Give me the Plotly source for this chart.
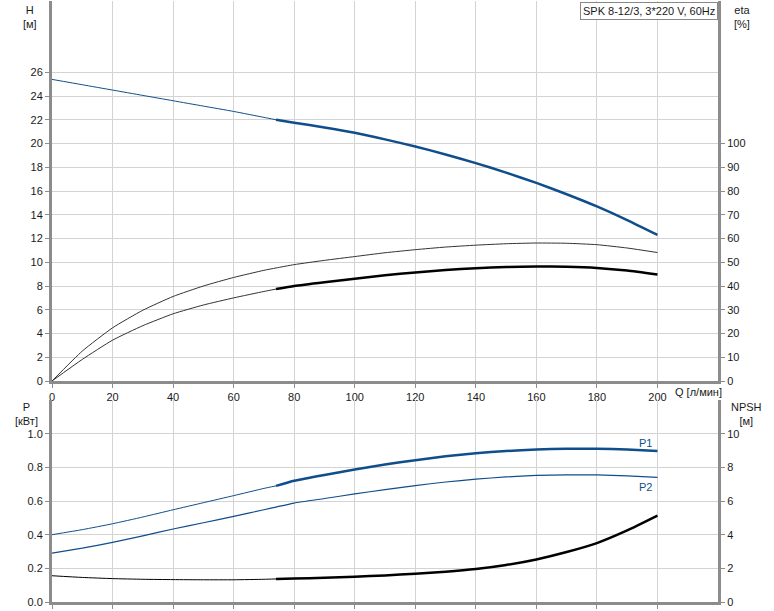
import plotly.graph_objects as go

# ---- data ----
Q = [0, 10, 20, 30, 40, 50, 60, 70, 74, 80, 90, 100, 110, 120, 130, 140, 150, 160, 170, 180, 190, 200]
H = [25.4, 24.95, 24.5, 24.05, 23.6, 23.15, 22.7, 22.2, 22.0, 21.75, 21.35, 20.9, 20.35, 19.75, 19.08, 18.35, 17.55, 16.68, 15.73, 14.7, 13.55, 12.3]
ETA_UP = [0, 12.6, 22.4, 29.8, 35.6, 40.0, 43.6, 46.6, 47.6, 49.0, 50.8, 52.4, 54.0, 55.3, 56.4, 57.2, 57.8, 58.1, 58.0, 57.4, 56.0, 54.1]
ETA_LO = [0, 9.1, 17.2, 23.3, 28.3, 32.0, 35.0, 37.7, 38.7, 40.0, 41.6, 43.1, 44.5, 45.7, 46.7, 47.5, 48.0, 48.2, 48.1, 47.6, 46.5, 44.8]
P1 = [0.40, 0.43, 0.465, 0.505, 0.548, 0.59, 0.632, 0.675, 0.69, 0.72, 0.755, 0.787, 0.817, 0.843, 0.866, 0.884, 0.897, 0.906, 0.911, 0.911, 0.906, 0.897]
P2 = [0.291, 0.32, 0.354, 0.393, 0.434, 0.471, 0.509, 0.548, 0.564, 0.588, 0.615, 0.642, 0.668, 0.692, 0.713, 0.73, 0.743, 0.752, 0.756, 0.755, 0.750, 0.741]
NPSH = [1.56, 1.46, 1.39, 1.35, 1.33, 1.32, 1.32, 1.35, 1.37, 1.39, 1.44, 1.5, 1.58, 1.68, 1.8, 1.96, 2.2, 2.53, 2.97, 3.5, 4.25, 5.13]
SPLIT = 8  # index of Q=74 where the bold (operating) range starts

X_TICKS = [0, 20, 40, 60, 80, 100, 120, 140, 160, 180, 200]
H_TICKS = [0, 2, 4, 6, 8, 10, 12, 14, 16, 18, 20, 22, 24, 26]
ETA_TICKS = [0, 10, 20, 30, 40, 50, 60, 70, 80, 90, 100]
P_TICKS = [0.0, 0.2, 0.4, 0.6, 0.8, 1.0]
NPSH_TICKS = [0, 2, 4, 6, 8, 10]

TITLE = "SPK 8-12/3, 3*220 V, 60Hz"

BLUE = "#104e8b"
BLACK = "#000000"
GRID = "#d3d3d3"
AXIS = "#8c8c8c"
FONT = dict(family="Liberation Sans, Arial, sans-serif", size=11, color="#1a1a1a")

fig = go.Figure()

def seg(x, y, xa, ya, color, width, lo, hi):
    fig.add_trace(go.Scatter(x=x[lo:hi], y=y[lo:hi], xaxis=xa, yaxis=ya, mode="lines",
                             line=dict(color=color, width=width, shape="spline", smoothing=0.5),
                             hoverinfo="skip", showlegend=False))

n = len(Q)
# H curve
seg(Q, H, "x", "y", BLUE, 1, 0, SPLIT + 1)
seg(Q, H, "x", "y", BLUE, 2.5, SPLIT, n)
# eta curves
seg(Q, ETA_UP, "x", "y3", "#333333", 1, 0, n)
seg(Q, ETA_LO, "x", "y3", "#333333", 1, 0, SPLIT + 1)
seg(Q, ETA_LO, "x", "y3", BLACK, 2.5, SPLIT, n)
# P1, P2
seg(Q, P1, "x2", "y2", BLUE, 1, 0, SPLIT + 1)
seg(Q, P1, "x2", "y2", BLUE, 2.5, SPLIT, n)
seg(Q, P2, "x2", "y2", BLUE, 1.2, 0, n)
# NPSH
seg(Q, NPSH, "x2", "y4", BLACK, 1, 0, SPLIT + 1)
seg(Q, NPSH, "x2", "y4", BLACK, 2.5, SPLIT, n)

top_dom = [0.3677, 1.0]
bot_dom = [0.0, 0.336]

xcommon = dict(range=[0, 220], tickvals=X_TICKS, showgrid=True, gridcolor=GRID, gridwidth=1,
               showline=True, linecolor=AXIS, linewidth=3, ticks="outside", ticklen=4,
               tickcolor=AXIS, zeroline=False, tickfont=FONT, fixedrange=True)

fig.update_layout(
    width=774, height=611,
    margin=dict(l=52, r=56, t=1, b=9, autoexpand=False),
    paper_bgcolor="white", plot_bgcolor="white",
    font=FONT,
    xaxis=dict(xcommon, domain=[0, 1], anchor="y", showticklabels=True),
    xaxis2=dict(xcommon, domain=[0, 1], anchor="y2", matches="x", showticklabels=False),
    yaxis=dict(domain=top_dom, range=[0, 32], tickvals=H_TICKS, showgrid=True, gridcolor=GRID,
               showline=True, linecolor=AXIS, linewidth=3, ticks="outside", ticklen=4,
               tickcolor=AXIS, zeroline=False, tickfont=FONT, anchor="x"),
    yaxis3=dict(overlaying="y", side="right", range=[0, 160], tickvals=ETA_TICKS, showgrid=False,
                showline=True, linecolor=AXIS, linewidth=3, ticks="outside", ticklen=4,
                tickcolor=AXIS, zeroline=False, tickfont=FONT, anchor="x"),
    yaxis2=dict(domain=bot_dom, range=[0, 1.2], tickvals=P_TICKS, tickformat=".1f", showgrid=True,
                gridcolor=GRID, showline=True, linecolor=AXIS, linewidth=3, ticks="outside",
                ticklen=4, tickcolor=AXIS, zeroline=False, tickfont=FONT, anchor="x2"),
    yaxis4=dict(overlaying="y2", side="right", range=[0, 12], tickvals=NPSH_TICKS, showgrid=False,
                showline=True, linecolor=AXIS, linewidth=3, ticks="outside", ticklen=4,
                tickcolor=AXIS, zeroline=False, tickfont=FONT, anchor="x2"),
)

ann = [
    dict(text="H<br>[м]", x=30, y=2),
    dict(text="eta<br>[%]", x=742, y=2),
    dict(text="P<br>[кВт]", x=26, y=399),
    dict(text="NPSH<br>[м]", x=746, y=399),
]
for a in ann:
    fig.add_annotation(text=a["text"], xref="paper", yref="paper",
                       x=(a["x"] - 52) / (774 - 52 - 56), y=1 - (a["y"] - 1) / 601,
                       xanchor="center", yanchor="top", showarrow=False, align="center",
                       font=FONT)

fig.add_annotation(text="Q [л/мин]", xref="paper", yref="paper",
                   x=(673 - 52) / 666, y=1 - (384 - 1) / 601, xanchor="left", yanchor="top",
                   showarrow=False, font=FONT)

fig.add_annotation(text=TITLE, xref="paper", yref="paper", x=1.0, y=1.0 - 1 / 601,
                   xanchor="right", yanchor="top", showarrow=False, font=FONT,
                   bordercolor="#888888", borderwidth=1, borderpad=2, bgcolor="white")

fig.add_annotation(text="P1", x=196, y=0.945, xref="x2", yref="y2", showarrow=False,
                   font=dict(family=FONT["family"], size=11, color=BLUE))
fig.add_annotation(text="P2", x=196, y=0.685, xref="x2", yref="y2", showarrow=False,
                   font=dict(family=FONT["family"], size=11, color=BLUE))

fig.write_html("out.html", config={"displayModeBar": False},
               post_script="document.body.style.margin='0';")
